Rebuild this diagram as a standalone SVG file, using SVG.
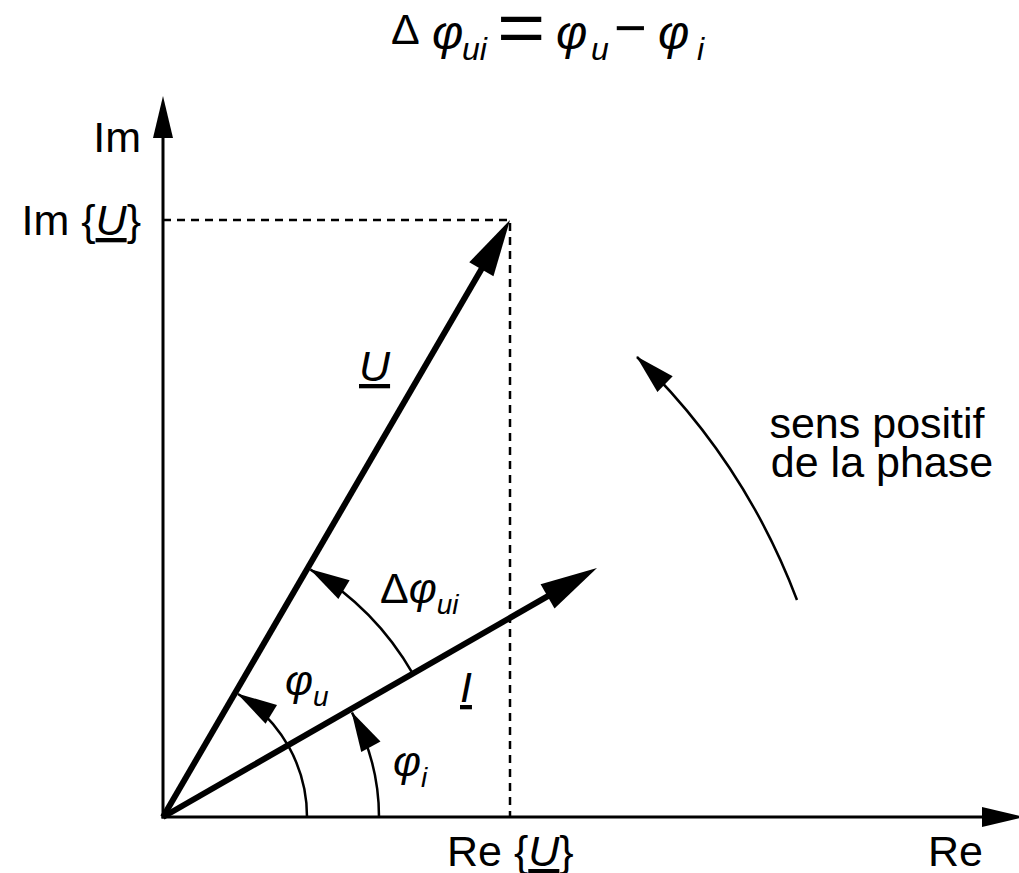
<svg xmlns="http://www.w3.org/2000/svg" width="1019" height="873" viewBox="0 0 1019 873">
<style>
.lbl{font-family:"Liberation Sans",Arial,sans-serif;font-size:43px;fill:#000}
.it{font-style:italic}
.ul{text-decoration:underline}
.ttl{font-family:"Liberation Sans",Arial,sans-serif;fill:#000}
.axis{stroke:#000;stroke-width:3;fill:none}
.vec{stroke:#000;stroke-width:6;fill:none}
.dash{stroke:#000;stroke-width:2.5;stroke-dasharray:8 6;fill:none}
.arc{stroke:#000;stroke-width:2.5;fill:none}
</style>
<defs>
<marker id="axHead" markerUnits="userSpaceOnUse" orient="auto" viewBox="-24 -12 46 24" refX="0" refY="0" markerWidth="46" markerHeight="24">
<path d="M20,0 L-22,-10 L-22,10 Z" fill="#000"/>
</marker>
<marker id="vecHead" markerUnits="userSpaceOnUse" orient="auto" viewBox="-40 -16 64 32" refX="0" refY="0" markerWidth="64" markerHeight="32">
<path d="M20,0 L-37,-14 L-37,14 Z" fill="#000"/>
</marker>
<marker id="arcHead" markerUnits="userSpaceOnUse" orient="auto" viewBox="-42 -13 44 26" refX="0" refY="0" markerWidth="44" markerHeight="26">
<path d="M1,0 L-39,-11 L-39,11 Z" fill="#000"/>
</marker>
</defs>
<rect width="1019" height="873" fill="#fff"/>
<g id="connectors">
<path class="dash" d="M163,220 H510 V817"/>
<path class="axis" d="M163,818.5 V116" marker-end="url(#axHead)"/>
<path class="axis" d="M161.5,817 H1004" marker-end="url(#axHead)"/>
<path class="vec" d="M163,817 L499.95,237.3" marker-end="url(#vecHead)"/>
<path class="vec" d="M163,817 L579.65,577.95" marker-end="url(#vecHead)"/>
<path class="arc" d="M379,817 A216,216 0 0 0 352,712.6" marker-end="url(#arcHead)"/>
<path class="arc" d="M307,817 A144,144 0 0 0 238,694" marker-end="url(#arcHead)"/>
<path class="arc" d="M412.8,673.7 A288,288 0 0 0 310.5,569.6" marker-end="url(#arcHead)"/>
<path class="arc" d="M797,600 A665,665 0 0 0 637,357" marker-end="url(#arcHead)"/>
</g>
<g id="title" class="ttl">
<text class="lbl" x="391" y="44" style="font-size:43px">&#916;</text>
<text x="432" y="49" font-size="48" font-style="italic">φ</text>
<text x="462" y="60" font-size="32" font-style="italic">ui</text>
<text transform="translate(497,52) scale(1.15,1)" x="0" y="0" font-size="72">=</text>
<text x="556" y="49" font-size="48" font-style="italic">φ</text>
<text x="591" y="60" font-size="32" font-style="italic">u</text>
<text x="614" y="47" font-size="56">−</text>
<text x="658" y="49" font-size="48" font-style="italic">φ</text>
<text x="697" y="60" font-size="32" font-style="italic">i</text>
</g>
<g id="label-im"><text class="lbl" x="141" y="152" text-anchor="end">Im</text></g>
<g id="label-imu"><text class="lbl" x="141" y="235" text-anchor="end">Im {<tspan class="it ul">U</tspan>}</text></g>
<g id="label-re"><text class="lbl" x="928" y="866">Re</text></g>
<g id="label-reu"><text class="lbl" x="447" y="866">Re {<tspan class="it ul">U</tspan>}</text></g>
<g id="label-u"><text class="lbl it ul" x="359" y="381">U</text></g>
<g id="label-i"><text class="lbl it ul" x="460" y="702">I</text></g>
<g id="label-dphi"><text class="lbl" x="380" y="603">&#916;<tspan class="it">φ</tspan><tspan class="it" font-size="28" dy="11">ui</tspan></text></g>
<g id="label-phiu"><text class="lbl it" x="285" y="695">φ<tspan font-size="28" dy="11">u</tspan></text></g>
<g id="label-phii"><text class="lbl it" x="393" y="776">φ<tspan font-size="28" dy="11">i</tspan></text></g>
<g id="label-sens"><text class="lbl" font-size="44" text-anchor="middle"><tspan x="877" y="438">sens positif</tspan><tspan x="882" y="477">de la phase</tspan></text></g>
</svg>
